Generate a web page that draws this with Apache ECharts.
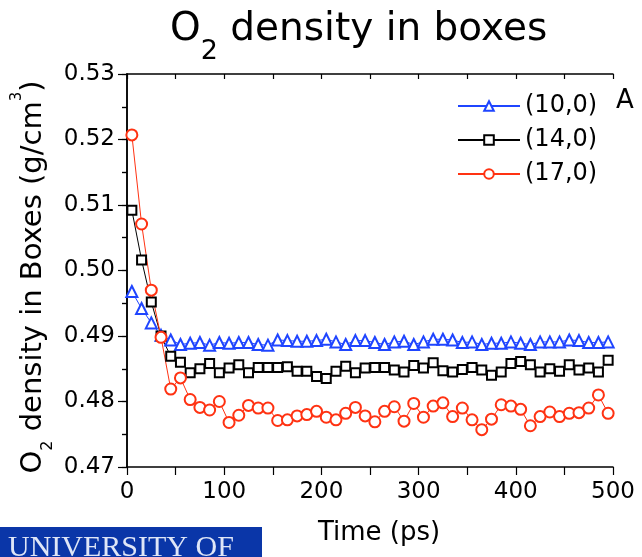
<!DOCTYPE html>
<html>
<head>
<meta charset="utf-8">
<script src="https://cdn.jsdelivr.net/npm/echarts@6/dist/echarts.min.js"></script>
<style>html,body{margin:0;padding:0;background:#fff}#c{width:642px;height:557px}</style>
</head>
<body>
<div id="c"></div>
<script>
// ---- data ----
const times = [5,15,25,35,45,55,65,75,85,95,105,115,125,135,145,155,165,175,185,195,
  205,215,225,235,245,255,265,275,285,295,305,315,325,335,345,355,365,375,385,395,
  405,415,425,435,445,455,465,475,485,495];
const seriesNames = ['(10,0)', '(14,0)', '(17,0)'];
const dens10 = [0.4968,0.4942,0.4920,0.4901,0.4894,0.4887,0.4889,0.4890,0.4886,0.4890,
  0.4889,0.4890,0.4890,0.4887,0.4886,0.4894,0.4893,0.4892,0.4892,0.4893,
  0.4895,0.4891,0.4887,0.4893,0.4893,0.4890,0.4887,0.4891,0.4892,0.4887,
  0.4891,0.4895,0.4895,0.4894,0.4890,0.4891,0.4887,0.4889,0.4889,0.4891,
  0.4889,0.4887,0.4891,0.4891,0.4891,0.4894,0.4893,0.4890,0.4890,0.4891];
const dens14 = [0.5092,0.5016,0.4952,0.4900,0.4869,0.4860,0.4844,0.4850,0.4858,0.4844,
  0.4851,0.4856,0.4844,0.4852,0.4852,0.4852,0.4853,0.4846,0.4846,0.4838,
  0.4835,0.4846,0.4854,0.4844,0.4851,0.4852,0.4852,0.4848,0.4845,0.4855,
  0.4851,0.4859,0.4847,0.4845,0.4849,0.4852,0.4848,0.4840,0.4845,0.4858,
  0.4861,0.4856,0.4845,0.4850,0.4846,0.4856,0.4848,0.4851,0.4845,0.4863];
const dens17 = [0.5207,0.5071,0.4970,0.4898,0.4819,0.4836,0.4803,0.4791,0.4787,0.4800,
  0.4768,0.4779,0.4794,0.4790,0.4790,0.4771,0.4772,0.4778,0.4780,0.4785,
  0.4776,0.4772,0.4782,0.4791,0.4778,0.4769,0.4785,0.4792,0.4770,0.4797,
  0.4776,0.4793,0.4798,0.4777,0.4790,0.4772,0.4757,0.4773,0.4795,0.4793,
  0.4788,0.4763,0.4777,0.4784,0.4777,0.4782,0.4783,0.4790,0.4810,0.4782];
const yTicks = { min: 0.47, max: 0.53, step: 0.01 };
const xTicks = { min: 0, max: 500, step: 100 };

// ---- chart ----
const FONT = 'DejaVu Sans';
const pairs = arr => times.map((t, i) => [t, arr[i]]);
const colors = ['#1f45ff', '#000000', '#ff3212'];
const symbols = ['emptyTriangle', 'emptyRect', 'emptyCircle'];
const sizes = [11, 9, 11];
const allData = [dens10, dens14, dens17];

const chart = echarts.init(document.getElementById('c'), null, { renderer: 'canvas' });
const axisLine = { show: true, lineStyle: { color: '#000', width: 1.5 } };

chart.setOption({
  animation: false,
  backgroundColor: '#fff',
  title: {
    text: '{a|O}{s|2}{a| density in boxes}',
    left: 170, top: 5, padding: 0,
    textStyle: {
      fontWeight: 'normal',
      rich: {
        a: { fontFamily: FONT, fontSize: 39, fontWeight: 'normal', lineHeight: 50, verticalAlign: 'middle', color: '#000' },
        s: { fontFamily: FONT, fontSize: 27, fontWeight: 'normal', lineHeight: 50, verticalAlign: 'middle', padding: [43, 0, 0, 0], color: '#000' }
      }
    }
  },
  legend: {
    orient: 'vertical', left: 457, top: 94, padding: 0,
    itemWidth: 62, itemHeight: 12, itemGap: 10,
    data: seriesNames,
    textStyle: { fontFamily: FONT, fontSize: 24, color: '#000' }
  },
  grid: { left: 127, right: 29, top: 74, bottom: 90, containLabel: false },
  xAxis: [{
    type: 'value', position: 'bottom', min: xTicks.min, max: xTicks.max, interval: xTicks.step,
    axisLine: axisLine,
    axisTick: { show: true, inside: false, length: 8, lineStyle: { color: '#000', width: 1.2 } },
    minorTick: { show: true, splitNumber: 2, length: 8, lineStyle: { color: '#000', width: 1.2 } },
    splitLine: { show: false },
    axisLabel: { fontFamily: FONT, fontSize: 23, color: '#000', margin: 14 }
  }, {
    type: 'value', position: 'top', min: xTicks.min, max: xTicks.max, interval: xTicks.step,
    axisLine: axisLine,
    axisTick: { show: true, inside: true, length: 5, lineStyle: { color: '#000', width: 1.2 } },
    minorTick: { show: true, splitNumber: 2, length: 5, lineStyle: { color: '#000', width: 1.2 } },
    splitLine: { show: false },
    axisLabel: { show: false }
  }],
  yAxis: [{
    type: 'value', position: 'left', min: yTicks.min, max: yTicks.max, interval: yTicks.step,
    axisLine: axisLine,
    axisTick: { show: true, inside: false, length: 9, lineStyle: { color: '#000', width: 1.2 } },
    minorTick: { show: true, splitNumber: 2, length: 5, lineStyle: { color: '#000', width: 1.2 } },
    splitLine: { show: false },
    axisLabel: { fontFamily: FONT, fontSize: 23, color: '#000', margin: 12,
      formatter: v => v.toFixed(2) }
  }, {
    type: 'value', position: 'right', min: yTicks.min, max: yTicks.max, interval: yTicks.step,
    axisLine: axisLine,
    axisTick: { show: true, inside: true, length: 5, lineStyle: { color: '#000', width: 1.2 } },
    minorTick: { show: true, splitNumber: 2, length: 5, lineStyle: { color: '#000', width: 1.2 } },
    splitLine: { show: false },
    axisLabel: { show: false }
  }],
  series: seriesNames.map((name, k) => ({
    name: name,
    type: 'line',
    xAxisIndex: 0, yAxisIndex: 0,
    data: pairs(allData[k]),
    symbol: symbols[k],
    symbolSize: sizes[k],
    showAllSymbol: true,
    lineStyle: { color: colors[k], width: 1 },
    itemStyle: { color: colors[k], borderColor: colors[k], borderWidth: 1 },
    emphasis: { disabled: true }
  })),
  graphic: [
    {
      type: 'text', x: 33.5, y: 277, rotation: Math.PI / 2,
      style: {
        text: '{m|O}{s|2}{m| density in Boxes (g/cm}{p|3}{m|)}',
        align: 'center', verticalAlign: 'middle',
        rich: {
          m: { fontFamily: FONT, fontSize: 29, lineHeight: 40, verticalAlign: 'middle', fill: '#000' },
          s: { fontFamily: FONT, fontSize: 16, lineHeight: 40, verticalAlign: 'middle', padding: [29, 0, 0, 0], fill: '#000' },
          p: { fontFamily: FONT, fontSize: 15, lineHeight: 40, verticalAlign: 'middle', padding: [0, 0, 33, 0], fill: '#000' }
        }
      }
    },
    {
      type: 'text', x: 379, y: 533,
      style: { text: 'Time (ps)', font: '26px "DejaVu Sans"', fill: '#000', align: 'center', verticalAlign: 'middle' }
    },
    {
      type: 'text', x: 616, y: 101,
      style: { text: 'A', font: '26px "DejaVu Sans"', fill: '#000', align: 'left', verticalAlign: 'middle' }
    },
    {
      type: 'rect', shape: { x: 0, y: 527, width: 262, height: 30 },
      style: { fill: '#0a36a8' }
    },
    {
      type: 'text', x: 8, y: 533,
      style: { text: 'UNIVERSITY OF', font: '30px "Liberation Serif"', fill: '#dfe6f7', align: 'left', verticalAlign: 'top' }
    }
  ]
});
</script>
</body>
</html>
